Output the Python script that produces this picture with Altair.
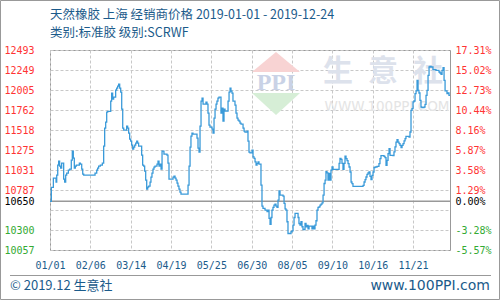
import altair as alt
import pandas as pd

# ---------------- texts ----------------
TITLE_1 = "天然橡胶 上海 经销商价格 2019-01-01 - 2019-12-24"
TITLE_2 = "类别:标准胶 级别:SCRWF"
FOOTER_LEFT = "© 2019.12 生意社"
FOOTER_RIGHT = "www.100PPI.com"
WATERMARK_CHARS = ["生", "意", "社"]
WATERMARK_URL = "WWW.100PPI.COM"
WATERMARK_LOGO = "PPI"

# ---------------- axes ----------------
START = "2019-01-01"
END = "2019-12-24"
BASE = 10650
Y_MIN, Y_MAX = 10057, 12493
Y_TICKS = [10057, 10300.6, 10544.2, 10650, 10787.8, 11031.4, 11275,
           11518.6, 11762.2, 12005.8, 12249.4, 12493]
Y_HIDDEN = 10544.2
X_TICKS = ["2019-01-01", "2019-02-06", "2019-03-14", "2019-04-19", "2019-05-25",
           "2019-06-30", "2019-08-05", "2019-09-10", "2019-10-16", "2019-11-21"]

# ---------------- series (days after 2019-01-01, price) ----------------
DAYS = [
    0, 1.2, 3.0, 5.4, 6.0, 6.9, 7.7, 8.6, 9.5, 10.4, 12.2, 13.1, 14.0, 14.9, 16.4,
    17.6, 19.0, 19.9, 20.8, 21.7, 22.6, 23.5, 26.2, 27.1, 28.3, 29.2, 30.1, 40.2,
    41.7, 42.5, 43.4, 44.9, 46.7, 47.9, 48.8, 49.7, 50.6, 51.5, 54.2, 55.0, 55.9,
    56.8, 58.6, 59.5, 60.4, 61.3, 62.2, 63.1, 64.0, 64.9, 65.8, 68.4, 69.3, 70.2,
    71.1, 72.0, 72.9, 73.8, 74.7, 75.6, 76.5, 77.4, 78.2, 79.1, 81.8, 82.7, 83.6,
    84.5, 85.4, 86.3, 87.2, 88.1, 89.3, 90.1, 91.0, 91.9, 92.8, 93.7, 95.5, 96.4,
    97.3, 98.2, 99.1, 100.0, 101.7, 104.4, 105.3, 106.2, 109.8, 110.7, 111.6,
    112.5, 113.4, 114.2, 115.1, 116.0, 116.9, 123.2, 124.1, 125.0, 125.8, 126.7,
    127.6, 131.2, 132.1, 133.0, 133.9, 134.8, 135.7, 136.6, 139.2, 140.1, 141.0,
    141.9, 142.8, 144.6, 145.5, 146.4, 147.3, 148.2, 149.0, 149.9, 150.8, 152.6,
    153.5, 154.4, 155.3, 156.2, 158.9, 159.8, 160.7, 161.5, 162.4, 163.3, 165.1,
    166.0, 166.9, 167.8, 168.7, 169.6, 170.5, 172.3, 173.2, 174.0, 175.8, 176.7,
    177.6, 178.5, 180.3, 181.2, 182.1, 183.0, 183.9, 184.8, 185.7, 186.5, 188.3,
    189.2, 190.1, 191.9, 193.7, 194.6, 195.5, 196.4, 197.3, 198.1, 199.0, 199.9,
    200.8, 201.7, 202.6, 203.5, 204.4, 205.3, 208.0, 208.9, 209.8, 210.6, 211.5,
    212.4, 215.1, 216.0, 216.9, 217.8, 218.7, 221.4, 222.2, 223.1, 224.0, 224.9,
    225.8, 227.6, 228.5, 229.4, 230.3, 231.2, 233.8, 234.7, 235.6, 236.5, 237.4,
    238.3, 239.2, 240.1, 241.0, 241.9, 242.8, 243.7, 244.6, 245.5, 246.3, 247.2,
    248.1, 249.0, 249.9, 250.8, 251.7, 252.6, 258.0, 258.8, 259.7, 260.6, 261.5,
    262.4, 263.3, 264.2, 265.1, 266.0, 266.9, 267.8, 268.7, 269.5, 270.4, 279.4,
    280.3, 281.2, 282.0, 282.9, 283.8, 284.7, 285.6, 286.5, 287.4, 288.3, 289.2,
    290.1, 291.9, 293.6, 294.5, 295.4, 298.1, 299.0, 299.9, 300.8, 301.7, 302.6,
    303.5, 306.1, 307.0, 307.9, 308.8, 309.7, 310.6, 311.5, 312.4, 313.3, 314.2,
    315.1, 316.0, 316.9, 317.7, 320.4, 321.3, 322.2, 323.1, 324.0, 324.9, 325.8,
    326.7, 327.6, 328.5, 329.3, 330.2, 331.1, 332.0, 333.8, 334.7, 335.6, 336.5,
    337.4, 338.3, 339.2, 340.1, 341.8, 344.5, 347.2, 348.1, 349.0, 349.9, 350.8,
    351.7, 352.6, 354.3, 355.2, 356.1, 357.0,
]
PRICES = [
    10650, 10819, 10932, 10884, 10969, 11091, 11140, 11079, 11054, 11115, 10920,
    10884, 10969, 10993, 11030, 11042, 11152, 11261, 11176, 11054, 11079, 11091,
    11115, 11103, 11042, 10981, 10969, 10993, 11030, 11054, 11079, 11091, 11115,
    11322, 11542, 11615, 11736, 11745, 11870, 11968, 11895, 11919, 12004, 12029,
    12053, 12077, 12029, 11980, 11773, 11542, 11517, 11566, 11542, 11481, 11408,
    11383, 11334, 11286, 11310, 11334, 11359, 11383, 11359, 11322, 11213, 11091,
    11079, 11018, 10908, 10799, 10823, 10835, 10884, 10945, 10993, 11042, 11066,
    11079, 11103, 11140, 11079, 11103, 11042, 11261, 11225, 11213, 11115, 10920,
    10945, 10957, 10932, 10908, 10872, 10835, 10799, 10762, 10738, 10847, 11079,
    11310, 11444, 11481, 11468, 11420, 11298, 11249, 11566, 11870, 11907, 11834,
    11858, 11834, 11724, 11578, 11554, 11529, 11481, 11663, 11773, 11834, 11870,
    11907, 11919, 11724, 11785, 11627, 11773, 11749, 11870, 11980, 12029, 11992,
    11968, 11870, 11822, 11724, 11663, 11639, 11627, 11602, 11590, 11542, 11505,
    11493, 11505, 11383, 11249, 11241, 11273, 11192, 11172, 11131, 11091, 11111,
    11131, 11103, 10847, 10591, 10563, 10543, 10526, 10543, 10441, 10368, 10453,
    10543, 10575, 10604, 10616, 10591, 10575, 10664, 10778, 10725, 10713, 10624,
    10559, 10543, 10401, 10258, 10279, 10291, 10360, 10453, 10502, 10453, 10380,
    10360, 10401, 10340, 10307, 10380, 10340, 10356, 10315, 10348, 10315, 10348,
    10315, 10360, 10413, 10543, 10575, 10583, 10604, 10616, 10632, 10725, 10867,
    10908, 11010, 10997, 10908, 10989, 10908, 11030, 11070, 11038, 11111, 11172,
    11160, 11111, 11038, 11111, 11200, 11169, 11145, 11109, 11068, 11007, 10885,
    10865, 10833, 10845, 10885, 10914, 10946, 10979, 10995, 11007, 10954, 10914,
    10967, 11007, 11060, 11068, 11076, 11109, 11169, 11206, 11198, 11182, 11088,
    11149, 11230, 11291, 11210, 11206, 11251, 11312, 11372, 11401, 11372, 11352,
    11332, 11303, 11332, 11352, 11385, 11413, 11442, 11433, 11494, 11758, 11779,
    11860, 11872, 11961, 11994, 12124, 12002, 11969, 11880, 11799, 11791, 11799,
    11831, 11941, 12002, 12184, 12286, 12294, 12286, 12254, 12245, 12225, 12213,
    12197, 12245, 12278, 12124, 11994, 11961, 11969, 11941, 11941,
]

# ---------------- styling ----------------
BLUE_TEXT = "#1b5b8b"
LINE_BLUE = "#3a9ad9"
RED = "#ff3333"
GREEN = "#33aa33"
FRAME = "#999999"
GRID = "#c8c8c8"
MONO = "DejaVu Sans Mono"
CJK = "Noto Sans CJK SC"


def dt(s):
    y, m, d = (int(p) for p in s.split("-"))
    return alt.DateTime(year=y, month=m, date=d)


df = pd.DataFrame({
    "date": pd.Timestamp(START) + pd.to_timedelta(DAYS, unit="D"),
    "price": PRICES,
})
one = pd.DataFrame({"k": [0]})
base_df = pd.DataFrame({"base": [BASE]})

label_color = {
    "condition": [
        {"test": f"datum.value == {BASE}", "value": "#000000"},
        {"test": f"datum.value < {BASE}", "value": GREEN},
    ],
    "value": RED,
}

y_scale = alt.Scale(domain=[Y_MIN, Y_MAX], nice=False, zero=False)

line = alt.Chart(df).mark_line(
    interpolate="step-after", color=LINE_BLUE, strokeWidth=1.3
).encode(
    x=alt.X(
        "date:T",
        scale=alt.Scale(domain=[dt(START), dt(END)]),
        axis=alt.Axis(
            values=[dt(s) for s in X_TICKS], format="%m/%d", title=None,
            labelColor=BLUE_TEXT, labelFont=MONO, labelFontSize=10,
            labelPadding=10, labelFlush=False, labelOverlap=False,
            ticks=False, domain=False, grid=True, gridDash=[3, 2],
            gridColor=GRID, gridWidth=1,
        ),
    ),
    y=alt.Y(
        "price:Q",
        scale=y_scale,
        axis=alt.Axis(
            values=Y_TICKS, title=None, orient="left",
            labelExpr=f"abs(datum.value - {Y_HIDDEN}) < 0.01 ? '' : format(floor(datum.value), 'd')",
            labelColor=label_color, labelFont=MONO, labelFontSize=10,
            labelPadding=16, ticks=False, domain=False,
            grid=True, gridDash=[3, 2], gridColor=GRID, gridWidth=1,
        ),
    ),
)

baseline = alt.Chart(base_df).mark_rule(color=FRAME, strokeWidth=1.5).encode(
    y=alt.Y(
        "base:Q",
        scale=y_scale,
        axis=alt.Axis(
            values=Y_TICKS, title=None, orient="right",
            labelExpr=(
                f"abs(datum.value - {Y_HIDDEN}) < 0.01 ? '' : "
                f"replace(format((datum.value / {BASE} - 1) * 100, '.2f'), '\u2212', '-') + '%'"
            ),
            labelColor=label_color, labelFont=MONO, labelFontSize=10,
            labelPadding=5, ticks=False, domain=False, grid=False,
        ),
    ),
)


def text(s, x, y, size, color, font=CJK, align="left", weight="normal"):
    return alt.Chart(one).mark_text(
        text=s, align=align, baseline="middle", font=font, fontSize=size,
        color=color, fontWeight=weight,
    ).encode(x=alt.value(x), y=alt.value(y))


# watermark
red_tri = alt.Chart(one).mark_point(
    shape="M0,-0.83L1,0L-1,0Z", size=2304, filled=True, fill="#f8d3d3",
    strokeWidth=0, opacity=1,
).encode(x=alt.value(226), y=alt.value(22))
green_tri = alt.Chart(one).mark_point(
    shape="M-1,0L1,0L0,0.92Z", size=2304, filled=True, fill="#d6eed6",
    strokeWidth=0, opacity=1,
).encode(x=alt.value(226), y=alt.value(43))
logo_txt = text(WATERMARK_LOGO, 226, 33, 24, "#c9d2e6", font="Liberation Serif",
                align="center", weight="bold")
wm_chars = [text(c, x, 22, 30, "#dde2ec", align="center", weight="bold")
            for c, x in zip(WATERMARK_CHARS, [288, 333, 378])]
wm_url = text(WATERMARK_URL, 337, 57, 13.5, "#e4e4e4", font="DejaVu Sans", align="center")

# titles / footer
t1 = text(TITLE_1, 0, -35, 12.5, BLUE_TEXT)
t2 = text(TITLE_2, 0, -17, 12.5, BLUE_TEXT)
f1 = text(FOOTER_LEFT, -40, 236, 13, BLUE_TEXT)
f2 = text(FOOTER_RIGHT, 440, 236, 14, BLUE_TEXT, font="DejaVu Sans", align="right")
footer_rule = alt.Chart(one).mark_rule(color=FRAME, strokeWidth=1).encode(
    x=alt.value(-40), x2=alt.value(441), y=alt.value(225.5)
)
border = alt.Chart(one).mark_rect(
    fill="white", fillOpacity=0, stroke=FRAME, strokeWidth=1
).encode(x=alt.value(-49.5), x2=alt.value(449.5), y=alt.value(-49.5), y2=alt.value(249.5))

chart = alt.layer(
    red_tri, green_tri, logo_txt, *wm_chars, wm_url,
    baseline, line,
    t1, t2, footer_rule, f1, f2, border,
).resolve_scale(
    y="independent"
).properties(
    width=400, height=200,
    padding={"left": 50, "top": 50, "right": 50, "bottom": 50},
    autosize=alt.AutoSizeParams(type="none"),
    background="white",
).configure_view(
    stroke=FRAME, strokeWidth=1
)

chart.save("out.html", embed_options={"renderer": "svg", "actions": False})
